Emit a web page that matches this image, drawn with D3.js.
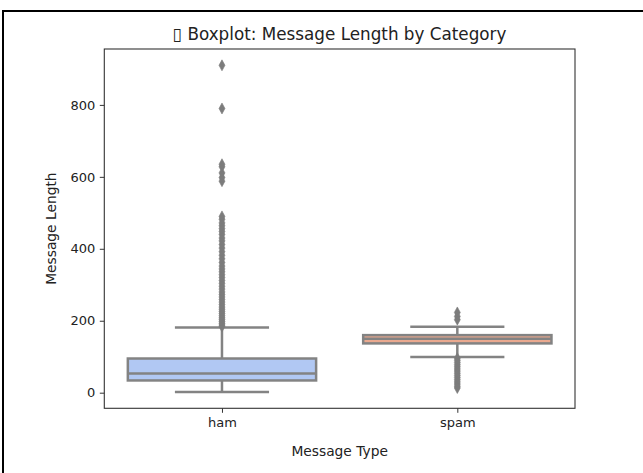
<!DOCTYPE html>
<html>
<head>
    <title></title>
    <meta charset="utf-8" />
    <script src="https://cdn.jsdelivr.net/npm/d3@7"></script>
    <style>
        body { margin: 0; background: #fff; }
        text { font-family: "DejaVu Sans", sans-serif; fill: #222; }
        .line { stroke: #838383; stroke-width: 2.5; fill: none; }
        .flier { fill: #7c7c7c; stroke: #7c7c7c; stroke-width: 0.6; }
    </style>
</head>
<body>
    <script>
        // categories and box stats
        var categories = ['ham', 'spam'];
        var boxColors = ['#b1c8f3', '#eaa98f'];
        var whiskerLow = [2, 99];
        var q1 = [34, 137];
        var median = [53, 150];
        var q3 = [95, 160];
        var whiskerHigh = [181, 183];

        var hamOutliers = [184, 188, 193, 198, 203, 208, 214, 220, 226, 232, 238, 245, 252, 259, 266,
            273, 280, 288, 296, 304, 312, 320, 328, 336, 344, 352, 362, 372, 382, 392, 402,
            412, 422, 430, 440, 448, 456, 464, 472, 482, 490, 588, 598, 611, 628, 635, 790, 910];
        var spamOutliers = [203, 212, 223,
            96, 90, 84, 78, 72, 66, 60, 54, 48, 42, 36, 30, 24, 18, 13];
        var outliers = [hamOutliers, spamOutliers];

        var yTicks = [0, 200, 400, 600, 800];

        var width = 643, height = 473;
        var plotLeft = 104.3, plotRight = 575, plotTop = 49, plotBottom = 408.3;

        var svg = d3.select('body').append('svg').attr('width', width).attr('height', height);

        // outer frame (only top and left edges show)
        svg.append('path')
            .attr('d', 'M3,' + height + 'V11H' + width)
            .attr('fill', 'none').attr('stroke', '#000').attr('stroke-width', 2);

        var x = d3.scalePoint().domain(categories).range([plotLeft, plotRight]).padding(0.5);
        var boxW = x.step() * 0.8;
        var capW = boxW / 2;

        var yMin = d3.min(outliers.concat([whiskerLow]), function (a) { return d3.min(a); });
        var yMax = d3.max(outliers.concat([whiskerHigh]), function (a) { return d3.max(a); });
        var pad = (yMax - yMin) * 0.05;
        var y = d3.scaleLinear().domain([yMin - pad, yMax + pad]).range([plotBottom, plotTop]);

        var boxes = svg.selectAll('.box').data(categories).enter()
            .append('g').attr('class', 'box');

        // whiskers
        boxes.append('line').attr('class', 'line')
            .attr('x1', function (d) { return x(d); }).attr('x2', function (d) { return x(d); })
            .attr('y1', function (d, i) { return y(whiskerLow[i]); })
            .attr('y2', function (d, i) { return y(q1[i]); });
        boxes.append('line').attr('class', 'line')
            .attr('x1', function (d) { return x(d); }).attr('x2', function (d) { return x(d); })
            .attr('y1', function (d, i) { return y(q3[i]); })
            .attr('y2', function (d, i) { return y(whiskerHigh[i]); });

        // caps
        [whiskerLow, whiskerHigh].forEach(function (arr) {
            boxes.append('line').attr('class', 'line')
                .attr('x1', function (d) { return x(d) - capW / 2; })
                .attr('x2', function (d) { return x(d) + capW / 2; })
                .attr('y1', function (d, i) { return y(arr[i]); })
                .attr('y2', function (d, i) { return y(arr[i]); });
        });

        // fliers
        var diamond = 'M0,-5.5L3,0L0,5.5L-3,0Z';
        boxes.each(function (d, i) {
            d3.select(this).selectAll('.flier').data(outliers[i]).enter()
                .append('path').attr('class', 'flier')
                .attr('d', diamond)
                .attr('transform', function (v) { return 'translate(' + x(d) + ',' + y(v) + ')'; });
        });

        // box
        boxes.append('rect').attr('class', 'line')
            .attr('x', function (d) { return x(d) - boxW / 2; })
            .attr('width', boxW)
            .attr('y', function (d, i) { return y(q3[i]); })
            .attr('height', function (d, i) { return y(q1[i]) - y(q3[i]); })
            .style('fill', function (d, i) { return boxColors[i]; });

        // median
        boxes.append('line').attr('class', 'line')
            .attr('x1', function (d) { return x(d) - boxW / 2; })
            .attr('x2', function (d) { return x(d) + boxW / 2; })
            .attr('y1', function (d, i) { return y(median[i]); })
            .attr('y2', function (d, i) { return y(median[i]); });

        // spines
        svg.append('rect')
            .attr('x', plotLeft).attr('y', plotTop)
            .attr('width', plotRight - plotLeft).attr('height', plotBottom - plotTop)
            .attr('fill', 'none').attr('stroke', '#333').attr('stroke-width', 1.1);

        // axes
        var yAxis = svg.append('g').attr('transform', 'translate(' + plotLeft + ',0)')
            .call(d3.axisLeft(y).tickValues(yTicks).tickSize(4.5).tickPadding(4.5));
        var xAxis = svg.append('g').attr('transform', 'translate(0,' + plotBottom + ')')
            .call(d3.axisBottom(x).tickSize(4.5).tickPadding(5));
        [yAxis, xAxis].forEach(function (g) {
            g.select('.domain').remove();
            g.selectAll('.tick line').attr('stroke', '#333').attr('stroke-width', 1);
            g.selectAll('.tick text').style('font-size', '13px')
                .style('font-family', '"DejaVu Sans", sans-serif').attr('fill', '#222');
        });

        // title and labels
        svg.append('text')
            .attr('x', (plotLeft + plotRight) / 2).attr('y', 40)
            .attr('text-anchor', 'middle').style('font-size', '16.8px')
            .text('\u25AF Boxplot: Message Length by Category');

        svg.append('text')
            .attr('x', (plotLeft + plotRight) / 2).attr('y', 456)
            .attr('text-anchor', 'middle').style('font-size', '13.8px')
            .text('Message Type');

        svg.append('text')
            .attr('transform', 'translate(56,' + (plotTop + plotBottom) / 2 + ') rotate(-90)')
            .attr('text-anchor', 'middle').style('font-size', '13.8px')
            .text('Message Length');
    </script>
</body>
</html>
